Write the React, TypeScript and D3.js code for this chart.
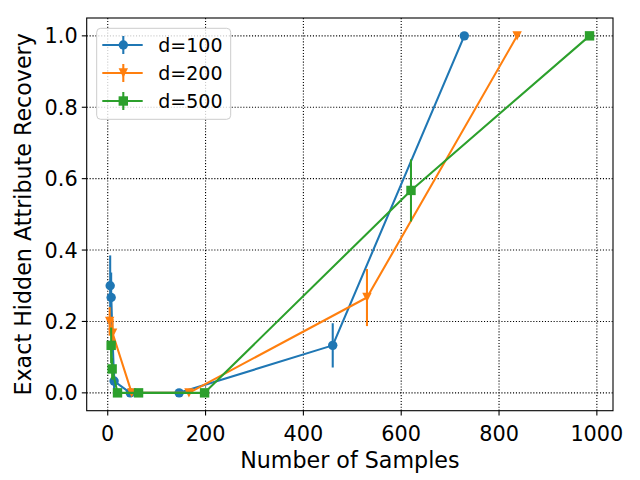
import React from "react";
import * as d3 from "d3";

// number of samples / recovery rate / std, one set per dimension
const samplesD100 = [5, 7, 13, 46, 146, 460, 729];
const recoveryD100 = [0.3, 0.267, 0.033, 0, 0, 0.133, 1.0];
const errD100 = [0.085, 0.07, 0.03, 0, 0, 0.062, 0];

const samplesD200 = [4, 10, 49, 166, 530, 837];
const recoveryD200 = [0.2, 0.167, 0, 0, 0.267, 1.0];
const errD200 = [0.04, 0.04, 0, 0, 0.08, 0];

const samplesD500 = [7, 9, 20, 63, 198, 620, 985];
const recoveryD500 = [0.133, 0.067, 0, 0, 0, 0.567, 1.0];
const errD500 = [0.05, 0.03, 0, 0, 0, 0.087, 0];

const seriesNames = ["d=100", "d=200", "d=500"];
const xTicks = [0, 200, 400, 600, 800, 1000];
const yTicks = [0, 0.2, 0.4, 0.6, 0.8, 1.0];

const width = 640;
const height = 480;
const margin = { top: 18, right: 27, bottom: 69.3, left: 86.7 };
const font = "DejaVu Sans, sans-serif";
const colors = ["#1f77b4", "#ff7f0e", "#2ca02c"];
const markers = ["circle", "triangle", "square"];
const lw = 2.08;
const ms = 9.4;

type Pt = { x: number; y: number; e: number };

const series = [
  { xs: samplesD100, ys: recoveryD100, es: errD100 },
  { xs: samplesD200, ys: recoveryD200, es: errD200 },
  { xs: samplesD500, ys: recoveryD500, es: errD500 },
].map((s, i) => ({
  name: seriesNames[i],
  color: colors[i],
  marker: markers[i],
  points: s.xs.map((x, j) => ({ x, y: s.ys[j], e: s.es[j] })) as Pt[],
}));

function Marker({ kind, cx, cy, color }: { kind: string; cx: number; cy: number; color: string }) {
  const h = ms / 2;
  if (kind === "circle") return <circle cx={cx} cy={cy} r={h} fill={color} />;
  if (kind === "square")
    return <rect x={cx - h} y={cy - h} width={ms} height={ms} fill={color} />;
  return (
    <path
      d={`M${cx - h},${cy - h}L${cx + h},${cy - h}L${cx},${cy + h}Z`}
      fill={color}
    />
  );
}

export default function App() {
  const x = d3.scaleLinear().domain([-43, 1033]).range([margin.left, width - margin.right]);
  const y = d3.scaleLinear().domain([-0.05, 1.05]).range([height - margin.bottom, margin.top]);

  const line = d3
    .line<Pt>()
    .x((d) => x(d.x))
    .y((d) => y(d.y));

  const x0 = margin.left;
  const x1 = width - margin.right;
  const y0 = height - margin.bottom;
  const y1 = margin.top;

  return (
    <div style={{ position: "fixed", left: 0, top: 0 }}>
      <svg width={width} height={height} style={{ display: "block", background: "#fff" }}>
        <g stroke="#000" strokeWidth={1.1} strokeDasharray="1.1,1.8">
          {xTicks.map((t) => (
            <line key={"gx" + t} x1={x(t)} x2={x(t)} y1={y0} y2={y1} />
          ))}
          {yTicks.map((t) => (
            <line key={"gy" + t} x1={x0} x2={x1} y1={y(t)} y2={y(t)} />
          ))}
        </g>

        {series.map((s) => (
          <g key={s.name}>
            {s.points
              .filter((p) => p.e > 0)
              .map((p, j) => (
                <line
                  key={j}
                  x1={x(p.x)}
                  x2={x(p.x)}
                  y1={y(p.y - p.e)}
                  y2={y(p.y + p.e)}
                  stroke={s.color}
                  strokeWidth={lw}
                />
              ))}
            <path d={line(s.points) || ""} fill="none" stroke={s.color} strokeWidth={lw} strokeLinejoin="round" />
            {s.points.map((p, j) => (
              <Marker key={j} kind={s.marker} cx={x(p.x)} cy={y(p.y)} color={s.color} />
            ))}
          </g>
        ))}

        <rect x={x0} y={y1} width={x1 - x0} height={y0 - y1} fill="none" stroke="#000" strokeWidth={1.1} />

        <g fontFamily={font} fontSize={20.8} fill="#000">
          {xTicks.map((t) => (
            <g key={"tx" + t}>
              <line x1={x(t)} x2={x(t)} y1={y0} y2={y0 + 4.9} stroke="#000" strokeWidth={1.1} />
              <text x={x(t)} y={y0 + 30} textAnchor="middle">
                {t}
              </text>
            </g>
          ))}
          {yTicks.map((t) => (
            <g key={"ty" + t}>
              <line x1={x0 - 4.9} x2={x0} y1={y(t)} y2={y(t)} stroke="#000" strokeWidth={1.1} />
              <text x={x0 - 9} y={y(t)} dy="0.36em" textAnchor="end">
                {d3.format(".1f")(t)}
              </text>
            </g>
          ))}
        </g>

        <text x={(x0 + x1) / 2} y={468} textAnchor="middle" fontFamily={font} fontSize={22.2}>
          Number of Samples
        </text>
        <text
          transform={`translate(31,${(y0 + y1) / 2}) rotate(-90)`}
          textAnchor="middle"
          fontFamily={font}
          fontSize={22.2}
        >
          Exact Hidden Attribute Recovery
        </text>

        <g>
          <rect x={96.7} y={28.3} width={134} height={91} rx={4} fill="#fff" fillOpacity={0.8} stroke="#ccc" strokeWidth={1} />
          {series.map((s, i) => {
            const ly = 45 + i * 28;
            return (
              <g key={"lg" + s.name}>
                <line x1={102.3} x2={142.7} y1={ly} y2={ly} stroke={s.color} strokeWidth={lw} />
                <line x1={123.3} x2={123.3} y1={ly - 9} y2={ly + 9} stroke={s.color} strokeWidth={lw} />
                <Marker kind={s.marker} cx={123.3} cy={ly} color={s.color} />
                <text x={158.3} y={ly} dy="0.36em" fontFamily={font} fontSize={19}>
                  {s.name}
                </text>
              </g>
            );
          })}
        </g>
      </svg>
    </div>
  );
}
